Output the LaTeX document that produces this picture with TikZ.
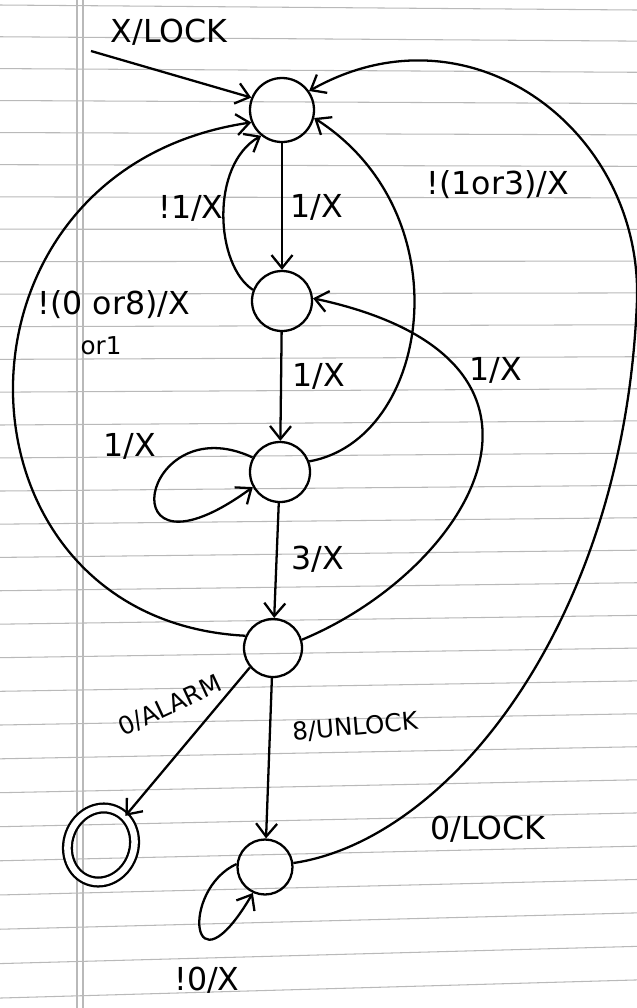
\documentclass[tikz,border=0pt]{standalone}
\usepackage{fontspec}
\setmainfont{DejaVu Sans}
\usetikzlibrary{arrows.meta,shapes.geometric}

\begin{document}
\begin{tikzpicture}[x=0.2mm,y=0.2mm,
    >={Straight Barb[length=2.6mm,width=4.2mm]},
    ink/.style={line width=1.3pt},
    state/.style={circle,draw,ink,minimum size=12mm,inner sep=0pt},
    lbl/.style={font=\fontsize{18}{20}\selectfont},
    small/.style={font=\fontsize{14}{16}\selectfont},
    rule/.style={gray!55,line width=0.6pt}]
    \useasboundingbox (0,0) rectangle (637,-1008);

    % Ruled paper
    \fill[white] (0,0) rectangle (637,-1008);
    \foreach \k in {0,...,30} {
        \pgfmathsetmacro\yl{5+31.7*\k+0.0467*\k*\k}
        \pgfmathsetmacro\yr{10+31.05*\k+0.0427*\k*\k}
        \draw[rule] (0,-\yl) -- (637,-\yr);
    }
    \draw[rule] (77,0) -- (77,-1008);
    \draw[rule] (83,0) -- (83,-1008);

    % States
    \node[state, minimum size=12.8mm] (s0) at (282,-110) {};
    \node[state] (s1) at (282,-301) {};
    \node[state] (s2) at (280,-472) {};
    \node[state, minimum size=11.6mm] (s3) at (273,-648) {};
    \node[state, minimum size=11mm] (s4) at (265,-867) {};
    \node[ellipse, draw, ink, double, double distance=1.3mm,
        minimum width=13.2mm, minimum height=15mm, rotate=-20] (alarm) at (101,-845) {};

    % Start
    \coordinate (start) at (91,-51);
    \draw[ink,->] (start) -- (s0.158);
    \node[lbl] (lstart) at (169,-32) {X/LOCK};

    % Straight transitions
    \draw[ink,->] (s0) -- (s1);
    \draw[ink,->] (s1) -- (s2);
    \draw[ink,->] (s2) -- (s3);
    \draw[ink,->] (s3) -- (s4);
    \draw[ink,->] (s3.220) -- (alarm);

    % Back edges
    \draw[ink,->] (s1.159) .. controls (215,-265) and (210,-165) .. (s0.231);
    \draw[ink,->] (s2.20) .. controls (430,-440) and (465,-215) .. (s0.-14);
    \draw[ink,->] (s3.16) .. controls (470,-570) and (600,-360) .. (s1.5);
    \draw[ink,->] (s3.156) .. controls (-60,-620) and (-70,-170) .. (s0.202);
    \coordinate (turn) at (637,-300);
    \draw[ink,->] (s4.8) .. controls (450,-840) and (625,-620) .. (turn)
        .. controls (642,-130) and (470,0) .. (s0.35);

    % Self loops
    \draw[ink,->] (s2.152) .. controls (140,-405) and (105,-595) .. (s2.209);
    \draw[ink,->] (s4.174) .. controls (180,-890) and (190,-1000) .. (s4.245);

    % Labels
    \node[lbl] (l01) at (317,-207) {1/X};
    \node[lbl] (l10) at (191,-208) {!1/X};
    \node[lbl] (l20) at (498,-185) {!(1or3)/X};
    \node[lbl] (l12) at (319,-376) {1/X};
    \node[lbl] (l30) at (114,-305) {!(0 or8)/X};
    \node[small] (l30b) at (101,-346) {or1};
    \node[lbl] (l31) at (496,-370) {1/X};
    \node[lbl] (l22) at (130,-446) {1/X};
    \node[lbl] (l23) at (318,-559) {3/X};
    \node[small, rotate=25] (l3a) at (170,-706) {0/ALARM};
    \node[small, rotate=5] (l34) at (355,-727) {8/UNLOCK};
    \node[lbl] (l40) at (488,-829) {0/LOCK};
    \node[lbl] (l44) at (207,-980) {!0/X};
\end{tikzpicture}
\end{document}
